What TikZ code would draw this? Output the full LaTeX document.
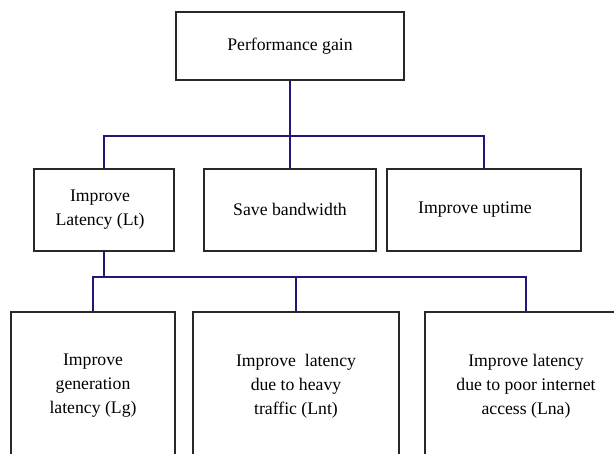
\documentclass[tikz,border=0pt]{standalone}
\usepackage{fontspec}
\setmainfont{Liberation Serif}
\definecolor{linkblue}{RGB}{34,22,120}
\definecolor{boxline}{RGB}{40,40,40}
\begin{document}
\begin{tikzpicture}[x=1pt,y=-1pt,
  box/.style={draw=boxline,line width=1.3pt,rectangle,inner sep=0pt,
    align=center,font=\fontsize{17.7}{24}\selectfont},
  conn/.style={draw=linkblue,line width=1.2pt}]
\useasboundingbox (0,0) rectangle (614,454);
\clip (0,0) rectangle (614,454);

% root
\node[box,minimum width=228pt,minimum height=68pt] (top) at (290,46) {Performance gain};

% second level
\node[box,minimum width=140pt,minimum height=82pt] (lt) at (104,210)
  {\hspace*{-8pt}Improve\\\hspace*{-8pt}Latency (Lt)};
\node[box,minimum width=172pt,minimum height=82pt] (sb) at (290,210)
  {\raisebox{2pt}{Save bandwidth}};
\node[box,minimum width=194pt,minimum height=82pt] (up) at (484,210)
  {\hspace*{-18pt}Improve uptime};

% third level (boxes run past the lower edge)
\node[box,minimum width=164pt,minimum height=148pt] (lg) at (93,386)
  {Improve\\generation\\latency (Lg)};
\node[box,minimum width=206pt,minimum height=148pt] (lnt) at (296,386)
  {Improve\ \ latency\\due to heavy\\traffic (Lnt)};
\node[box,minimum width=202pt,minimum height=148pt] (lna) at (526,386)
  {\raisebox{-3pt}{Improve latency}\\\raisebox{-3pt}{due to poor internet}\\\raisebox{-3pt}{access (Lna)}};

% bus lines
\coordinate (bus1) at (290,136);
\coordinate (bus2) at (104,277);

\draw[conn] (top.south) -- (sb.north);
\draw[conn] (lt.north) |- (bus1) -| (up.north);

\draw[conn,line width=1.7pt] (lt.south) -- (bus2);
\draw[conn] (lg.north) |- (bus2) -| (lna.north);
\draw[conn] (lnt.north) -- (lnt.north |- bus2);
\end{tikzpicture}
\end{document}
